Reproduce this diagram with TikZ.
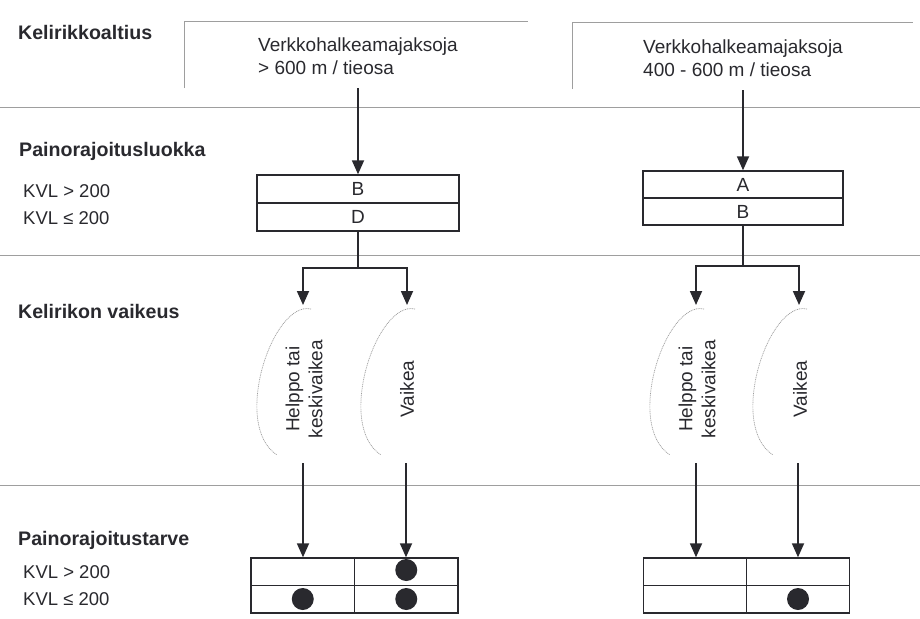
\documentclass[tikz,border=0pt]{standalone}
\usepackage{fontspec}
\setmainfont{Liberation Sans}
\usetikzlibrary{arrows.meta}

\definecolor{ink}{rgb}{0.16,0.16,0.18}
\definecolor{rule}{rgb}{0.62,0.62,0.62}

\tikzset{
  txt/.style={inner sep=0pt, text=ink, font=\fontsize{19}{23}\selectfont},
  heading/.style={txt, anchor=west, font=\fontsize{19.6}{23}\selectfont\bfseries},
  label/.style={txt, anchor=west, font=\fontsize{18.5}{23}\selectfont},
  sep/.style={draw=rule, line width=0.8pt},
  bracket/.style={draw=rule, line width=0.8pt},
  conn/.style={draw=ink, line width=1.8pt},
  arr/.style={conn, -{Triangle[width=12pt,length=14pt]}},
  cellbox/.style={draw=ink, line width=1.4pt, inner sep=0pt, text=ink,
    font=\fontsize{19}{23}\selectfont},
  arcline/.style={draw=rule, line width=0.7pt, dash pattern=on 1pt off 0.8pt},
  vtext/.style={txt, rotate=90, align=center},
  dot/.style={circle, fill=ink, inner sep=0pt, minimum size=22pt},
}

\begin{document}
\begin{tikzpicture}[x=1pt, y=-1pt]
\useasboundingbox (0,0) rectangle (920,618);

% row headings
\node[heading] (h1) at (18,32)  {Kelirikkoaltius};
\node[heading] (h2) at (19,151) {Painorajoitusluokka};
\node[heading] (h3) at (18,311) {Kelirikon vaikeus};
\node[heading] (h4) at (18,540) {Painorajoitustarve};

\node[label] (k1) at (23,191) {KVL > 200};
\node[label] (k2) at (23,218) {KVL ≤ 200};
\node[label] (k3) at (23,572) {KVL > 200};
\node[label] (k4) at (23,599) {KVL ≤ 200};

% horizontal separators
\draw[sep] (0,107) -- (920,107);
\draw[sep] (0,255) -- (920,255);
\draw[sep] (0,485) -- (920,485);

% top brackets
\draw[bracket] (184,88) -- (184,21) -- (528,21);
\draw[bracket] (572,89) -- (572,22) -- (913,22);

% source texts
\node[txt, anchor=west, align=left] (s1) at (258,56.5)
  {Verkkohalkeamajaksoja\\> 600 m / tieosa};
\node[txt, anchor=west, align=left] (s2) at (643,58.5)
  {Verkkohalkeamajaksoja\\400 - 600 m / tieosa};

% weight restriction class boxes
\node[cellbox, minimum width=202pt, minimum height=28pt] (b1) at (358,189) {B};
\node[cellbox, minimum width=202pt, minimum height=28pt] (d1) at (358,217) {D};
\node[cellbox, minimum width=200pt, minimum height=27pt] (a2) at (743,184.5) {A};
\node[cellbox, minimum width=200pt, minimum height=27pt] (b2) at (743,211.5) {B};

\coordinate (t1) at (358,88);
\coordinate (t2) at (743,90);
\draw[arr] (t1) -- (b1.north);
\draw[arr] (t2) -- (a2.north);

% split to difficulty classes
\coordinate (sp1) at (358,268);
\coordinate (sp2) at (743,266);
\coordinate (e1) at (303,305);
\coordinate (e2) at (407,305);
\coordinate (e3) at (696,305);
\coordinate (e4) at (799,305);
\draw[conn] (d1.south) -- (sp1);
\draw[conn] (b2.south) -- (sp2);
\draw[arr] (sp1) -| (e1);
\draw[arr] (sp1) -| (e2);
\draw[arr] (sp2) -| (e3);
\draw[arr] (sp2) -| (e4);

% dotted arcs
\foreach \x in {303,407,696,799}{
  \draw[arcline] (\x+8,309) .. controls (\x-30,300) and (\x-72,425) .. (\x-26,455);
}

\node[vtext] (v1) at (304,389) {Helppo tai\\keskivaikea};
\node[vtext] (v2) at (407,389) {Vaikea};
\node[vtext] (v3) at (697,389) {Helppo tai\\keskivaikea};
\node[vtext] (v4) at (800,389) {Vaikea};

% need tables
\node[cellbox, minimum width=103.5pt, minimum height=27.5pt] (l11) at (302.75,571.75) {};
\node[cellbox, minimum width=103.5pt, minimum height=27.5pt] (l12) at (406.25,571.75) {};
\node[cellbox, minimum width=103.5pt, minimum height=27.5pt] (l21) at (302.75,599.25) {};
\node[cellbox, minimum width=103.5pt, minimum height=27.5pt] (l22) at (406.25,599.25) {};
\node[cellbox, minimum width=103pt, minimum height=27.5pt] (r11) at (695,571.75) {};
\node[cellbox, minimum width=103pt, minimum height=27.5pt] (r12) at (798,571.75) {};
\node[cellbox, minimum width=103pt, minimum height=27.5pt] (r21) at (695,599.25) {};
\node[cellbox, minimum width=103pt, minimum height=27.5pt] (r22) at (798,599.25) {};

\coordinate (f1) at (303,463);
\coordinate (f2) at (406,463);
\coordinate (f3) at (696,463);
\coordinate (f4) at (798,463);
\draw[arr] (f1) -- (f1 |- l11.north);
\draw[arr] (f2) -- (f2 |- l12.north);
\draw[arr] (f3) -- (f3 |- r11.north);
\draw[arr] (f4) -- (f4 |- r12.north);

\node[dot] (p1) at (406.25,570) {};
\node[dot] (p2) at (302.75,599) {};
\node[dot] (p3) at (406.25,599) {};
\node[dot] (p4) at (798,599) {};
\end{tikzpicture}
\end{document}
